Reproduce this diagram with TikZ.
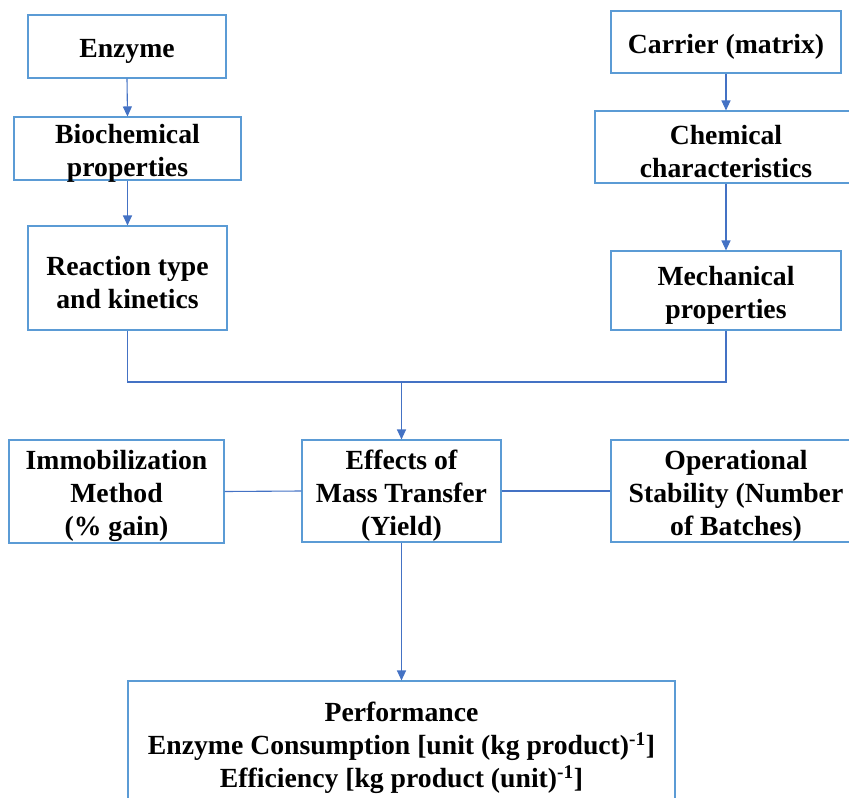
\documentclass[tikz,border=0pt]{standalone}
\usepackage{fontspec}
\setmainfont{Liberation Serif}
\usetikzlibrary{arrows.meta}
\definecolor{boxblue}{HTML}{5B9BD5}
\definecolor{linkblue}{HTML}{4472C4}
\begin{document}
\begin{tikzpicture}[x=1pt,y=-1pt,
  box/.style={draw=boxblue,line width=1.1pt,inner sep=0pt},
  txt/.style={align=center,inner sep=0pt,yshift=-4.5pt,
    font=\fontsize{27.7}{33}\selectfont\bfseries,text=black},
  link/.style={draw=linkblue,line width=1.1pt},
  arr/.style={link,-{Triangle[width=9pt,length=10pt]}}]
\useasboundingbox (0,0) rectangle (849,798);
\begin{scope}
\clip (0,0) rectangle (849,798);
\node[box,minimum width=198pt,minimum height=63pt] (enzyme) at (127,46.5) {};
\node[txt] (enzyme-t) at (enzyme.center) {Enzyme};
\node[box,minimum width=227pt,minimum height=63pt] (bio) at (127.5,148.5) {};
\node[txt] (bio-t) at (bio.center) {Biochemical\\properties};
\node[box,minimum width=199pt,minimum height=104pt] (react) at (127.5,278) {};
\node[txt] (react-t) at (react.center) {Reaction type\\and kinetics};
\node[box,minimum width=230pt,minimum height=62pt] (carrier) at (726,42) {};
\node[txt] (carrier-t) at (carrier.center) {Carrier (matrix)};
\node[box,minimum width=262pt,minimum height=72pt] (chem) at (726,147) {};
\node[txt] (chem-t) at (chem.center) {Chemical\\characteristics};
\node[box,minimum width=230pt,minimum height=79pt] (mech) at (726,290.5) {};
\node[txt] (mech-t) at (mech.center) {Mechanical\\properties};
\node[box,minimum width=215pt,minimum height=103pt] (immob) at (116.5,491.5) {};
\node[txt] (immob-t) at (immob.center) {Immobilization\\Method\\(\% gain)};
\node[box,minimum width=199pt,minimum height=102pt] (effects) at (401.5,491) {};
\node[txt] (effects-t) at (effects.center) {Effects of\\Mass Transfer\\(Yield)};
\node[box,minimum width=250pt,minimum height=102pt] (oper) at (736,491) {};
\node[txt] (oper-t) at (oper.center) {Operational\\Stability (Number\\of Batches)};
\node[box,minimum width=547pt,minimum height=134pt] (perf) at (401.5,748) {};
\node[txt,yshift=4.5pt] (perf-t) at (perf.center) {Performance\\Enzyme Consumption [unit (kg product)\textsuperscript{-1}]\\Efficiency [kg product (unit)\textsuperscript{-1}]};
\coordinate (J) at (401.5,382);
\draw[arr] (enzyme.south) -- (bio.north);
\draw[arr] (bio.south) -- (react.north);
\draw[arr] (carrier.south) -- (chem.north);
\draw[arr] (chem.south) -- (mech.north);
\draw[link] (react.south) |- (J) -| (mech.south);
\draw[arr] (J) -- (effects.north);
\draw[link] (immob.east) -- (effects.west);
\draw[link] (effects.east) -- (oper.west);
\draw[arr] (effects.south) -- (perf.north);
\end{scope}
\end{tikzpicture}
\end{document}
